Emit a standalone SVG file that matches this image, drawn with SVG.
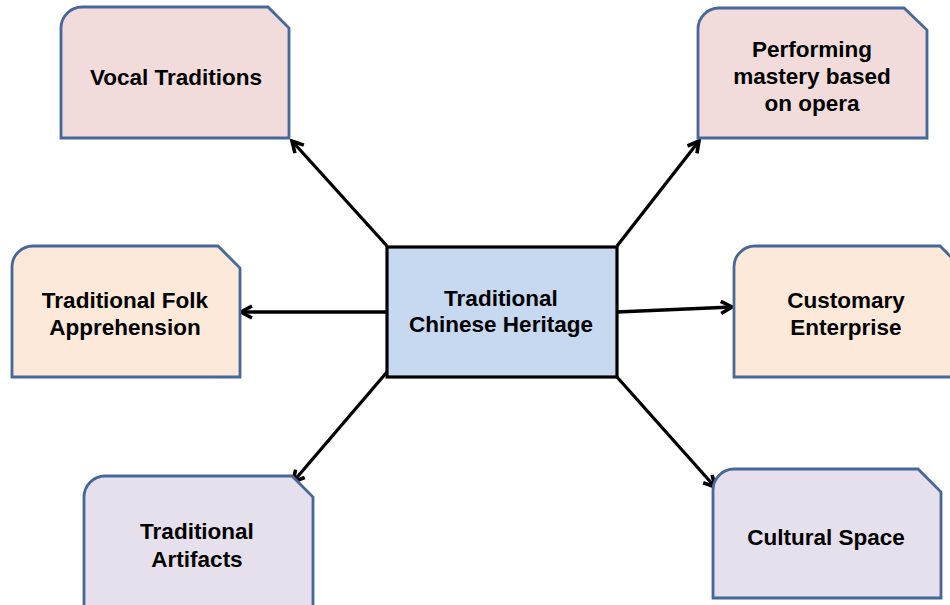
<svg xmlns="http://www.w3.org/2000/svg" width="950" height="605" viewBox="0 0 950 605">
<defs>
<style>
.box{stroke:#45679A;stroke-width:2.8;}
.pink{fill:#F2DCDB;}
.peach{fill:#FDE9D9;}
.lav{fill:#E5E0EC;}
.center{fill:#C6D9F1;stroke:#000;stroke-width:3.2;}
text{font-family:"Liberation Sans",Arial,sans-serif;font-weight:bold;font-size:22.5px;fill:#000;text-anchor:middle;}
.conn{stroke:#000;stroke-width:3.3;fill:none;marker-end:url(#arr);}
</style>
<marker id="arr" viewBox="0 0 16 16" refX="13.5" refY="8" markerWidth="16" markerHeight="16" markerUnits="userSpaceOnUse" orient="auto">
<path d="M2.5,2 L13.5,8 L2.5,14" fill="none" stroke="#000" stroke-width="3.6" stroke-linejoin="miter"/>
</marker>
</defs>
<rect width="950" height="605" fill="#fff"/>
<g id="connectors">
<line class="conn" x1="387" y1="246" x2="292" y2="141"/>
<line class="conn" x1="617" y1="246" x2="699" y2="141"/>
<line class="conn" x1="387" y1="312" x2="241" y2="312"/>
<line class="conn" x1="617" y1="312" x2="732" y2="307"/>
<line class="conn" x1="387" y1="372" x2="293" y2="482"/>
<line class="conn" x1="617" y1="377" x2="715" y2="487"/>
</g>
<g id="vocal">
<path class="box pink" d="M61,138 L61,28 A21,21 0 0 1 82,7 L268,7 L289,28 L289,138 Z"/>
<text x="176" y="85">Vocal Traditions</text>
</g>
<g id="performing">
<path class="box pink" d="M698,138 L698,29 A21,21 0 0 1 719,8 L904,8 L927,30 L927,138 Z"/>
<text x="812" y="57">Performing</text>
<text x="812" y="84">mastery based</text>
<text x="812" y="111">on opera</text>
</g>
<g id="folk">
<path class="box peach" d="M12,377 L12,267 A21,21 0 0 1 33,246 L218,246 L240,268 L240,377 Z"/>
<text x="125" y="308">Traditional Folk</text>
<text x="125" y="335">Apprehension</text>
</g>
<g id="customary">
<path class="box peach" d="M734,377 L734,267 A21,21 0 0 1 755,246 L940,246 L962,268 L962,377 Z"/>
<text x="846" y="308">Customary</text>
<text x="846" y="335">Enterprise</text>
</g>
<g id="artifacts">
<path class="box lav" d="M84,610 L84,497 A21,21 0 0 1 105,476 L292,476 L313,497 L313,610 Z"/>
<text x="197" y="539">Traditional</text>
<text x="197" y="567">Artifacts</text>
</g>
<g id="cultural">
<path class="box lav" d="M713,598 L713,490 A21,21 0 0 1 734,469 L918,469 L941,492 L941,598 Z"/>
<text x="826" y="545">Cultural Space</text>
</g>
<g id="heritage">
<rect class="center" x="387" y="247" width="230" height="130"/>
<text x="501" y="306">Traditional</text>
<text x="501" y="332">Chinese Heritage</text>
</g>
</svg>
